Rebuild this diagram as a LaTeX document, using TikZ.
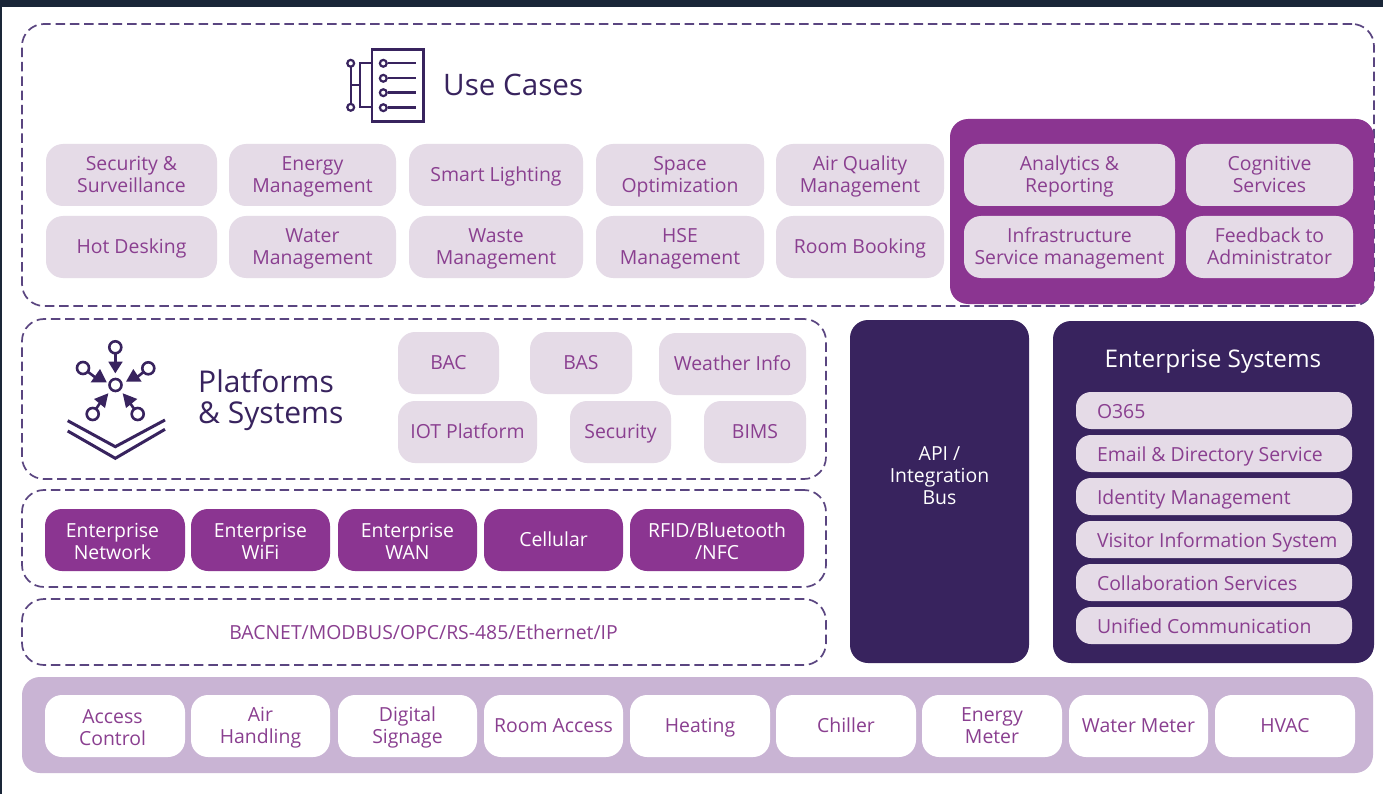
\documentclass[tikz,border=0pt]{standalone}
\usepackage{fontspec}
\usetikzlibrary{calc}
\setmainfont{Open Sans}
\definecolor{dk}{HTML}{38235E}
\definecolor{pu}{HTML}{8B3591}
\definecolor{pale}{HTML}{E5DBE7}
\definecolor{lil}{HTML}{C9B4D4}
\definecolor{txt}{HTML}{8A3F90}
\definecolor{bar}{HTML}{1A2638}
\definecolor{dash}{HTML}{5A4580}
\newcommand{\bx}[7]{\node[#6,minimum width={(#4-#2)*1pt},minimum height={(#5-#3)*1pt}] (#1) at ({(#2+#4)/2},{(#3+#5)/2}) {\rule{0pt}{19.4pt}#7\rule[-6.6pt]{0pt}{0pt}};}
\newcommand{\fr}[6]{\node[#6,minimum width={(#4-#2)*1pt},minimum height={(#5-#3)*1pt}] (#1) at ({(#2+#4)/2},{(#3+#5)/2}) {};}
\newcommand{\ls}{\rule{0pt}{24.4pt}}
\tikzset{
 x=1pt,y=-1pt,
 base/.style={draw=none,rectangle,rounded corners=17pt,inner sep=0pt,align=center,font=\fontsize{19.4}{22}\selectfont},
 palebox/.style={base,fill=pale,text=txt},
 purplebox/.style={base,fill=pu,text=white},
 whitebox/.style={base,fill=white,text=txt},
 listbox/.style={base,fill=pale,text=txt,rounded corners=15pt},
 frame/.style={rectangle,draw=dash,line width=1.7pt,dash pattern=on 9.5pt off 4.8pt,rounded corners=22pt,inner sep=0pt},
 panel/.style={rectangle,rounded corners=18pt,inner sep=0pt},
 ico/.style={draw=dk,line width=2.4pt},
 ring/.style={draw=dk,line width=2.2pt,fill=white},
 headtxt/.style={text=dk,inner sep=0pt,align=left,anchor=west},
 listtxt/.style={anchor=west,inner sep=0pt,text=txt,font=\fontsize{19.4}{22}\selectfont},
}
\begin{document}
\begin{tikzpicture}
\useasboundingbox (0,0) rectangle (1383,794);
\fill[white] (0,0) rectangle (1383,794);
\fill[bar] (0,0) rectangle (1383,7);
\fill[bar] (0,0) rectangle (2,794);
% frames
\fr{ucframe}{22}{24}{1374}{306}{frame}
\fr{psframe}{22}{319}{826}{479}{frame}
\fr{nwframe}{22}{490}{826}{587}{frame}
\fr{proto}{22}{599}{826}{665}{frame}
\node[anchor=base,inner sep=0pt,text=txt,font=\fontsize{19.4}{22}\selectfont] (protot) at (423.5,639.5) {BACNET/MODBUS/OPC/RS-485/Ethernet/IP};
% use cases
\bx{a1}{46}{144}{217}{206}{palebox}{Security \&\\Surveillance}
\bx{a2}{229}{144}{396}{206}{palebox}{Energy\\Management}
\bx{a3}{409}{144}{583}{206}{palebox}{Smart Lighting}
\bx{a4}{596}{144}{764}{206}{palebox}{Space\\Optimization}
\bx{a5}{776}{144}{944}{206}{palebox}{Air Quality\\Management}
\bx{b1}{46}{216}{217}{278}{palebox}{Hot Desking}
\bx{b2}{229}{216}{396}{278}{palebox}{Water\\Management}
\bx{b3}{409}{216}{583}{278}{palebox}{Waste\\Management}
\bx{b4}{596}{216}{764}{278}{palebox}{HSE\\Management}
\bx{b5}{776}{216}{944}{278}{palebox}{Room Booking}
\fr{pp}{950}{119}{1374}{304}{panel,fill=pu}
\bx{c1}{964}{144}{1175}{206}{palebox}{Analytics \&\\Reporting}
\bx{c2}{1186}{144}{1353}{206}{palebox}{Cognitive\\Services}
\bx{c3}{964}{216}{1175}{278}{palebox}{Infrastructure\\Service management}
\bx{c4}{1186}{216}{1353}{278}{palebox}{Feedback to\\Administrator}
% platforms
\bx{d1}{398}{332}{499}{394}{palebox}{BAC}
\bx{d2}{530}{332}{632}{394}{palebox}{BAS}
\bx{d3}{659}{333}{806}{395}{palebox}{Weather Info}
\bx{d4}{398}{401}{537}{463}{palebox}{IOT Platform}
\bx{d5}{570}{401}{671}{463}{palebox}{Security}
\bx{d6}{704}{401}{806}{463}{palebox}{BIMS}
% network
\bx{n1}{45}{509}{185}{571}{purplebox}{\ls Enterprise\kern5pt\\Network\kern5pt}
\bx{n2}{191}{509}{330}{571}{purplebox}{\ls Enterprise\\WiFi}
\bx{n3}{338}{509}{477}{571}{purplebox}{\ls Enterprise\\WAN}
\bx{n4}{484}{509}{623}{571}{purplebox}{Cellular}
\bx{n5}{630}{509}{804}{571}{purplebox}{\ls RFID/Bluetooth\\/NFC}
% api and enterprise
\fr{api}{850}{320}{1029}{663}{panel,fill=dk}
\node[text=white,inner sep=0pt,align=center,font=\fontsize{19.4}{22}\selectfont] (apit) at (939.5,478) {\strut API /\\Integration\\Bus\strut};
\fr{ent}{1053}{321}{1374}{663}{panel,fill=dk}
\node[text=white,inner sep=0pt,font=\fontsize{24.3}{28}\selectfont] (enttitle) at (1213,362) {Enterprise Systems};
\fr{e1}{1076}{392}{1352}{429}{listbox}
\fr{e2}{1076}{435}{1352}{472}{listbox}
\fr{e3}{1076}{478}{1352}{515}{listbox}
\fr{e4}{1076}{521}{1352}{558}{listbox}
\fr{e5}{1076}{564}{1352}{601}{listbox}
\fr{e6}{1076}{607}{1352}{644}{listbox}
\foreach \n/\t/\k in {e1/O365/a,e2/Email \& Directory Service/b,e3/Identity Management/c,e4/Visitor Information System/d,e5/Collaboration Services/e,e6/Unified Communication/f}{
 \path (\n.west) ++(21,4) node[listtxt] (lt\k) {\strut\t};
}
% bottom
\fr{bot}{22}{677}{1373}{773}{panel,fill=lil}
\bx{s1}{45}{695}{185}{757}{whitebox}{\ls Access\kern5pt\\Control\kern5pt}
\bx{s2}{191}{695}{330}{757}{whitebox}{Air\\Handling}
\bx{s3}{338}{695}{477}{757}{whitebox}{Digital\\Signage}
\bx{s4}{484}{695}{623}{757}{whitebox}{Room Access}
\bx{s5}{630}{695}{770}{757}{whitebox}{Heating}
\bx{s6}{776}{695}{916}{757}{whitebox}{Chiller}
\bx{s7}{922}{695}{1062}{757}{whitebox}{Energy\\Meter}
\bx{s8}{1069}{695}{1208}{757}{whitebox}{Water Meter}
\bx{s9}{1215}{695}{1355}{757}{whitebox}{HVAC}
% headings
\node[headtxt,font=\fontsize{29.6}{33}\selectfont] (uct) at (443,85) {Use Cases};
\node[headtxt,font=\fontsize{30}{31}\selectfont] (pst) at (198,400) {Platforms\\\& Systems};
% use cases icon
\draw[ico] (372,49.5) rectangle (423.3,121.5);
\foreach \yy in {63.3,78.3,92.7,107.7}{
 \draw[ico] (388,\yy) -- (416,\yy);
 \draw[ring] (383.3,\yy) circle (3.4pt);
}
\draw[ico] (350.7,63.3) -- (350.7,107.3);
\draw[ico] (350.7,85) -- (360,85);
\draw[ico] (372,63.3) -- (360,63.3) -- (360,107.3) -- (372,107.3);
\draw[ring] (350.7,63.3) circle (3.4pt);
\draw[ring] (350.7,107.3) circle (3.4pt);
% platforms icon
\draw[line width=3pt,draw=dk] (67.7,420.7) -- (115.3,446.7) -- (165,420);
\draw[line width=3pt,draw=dk] (67.7,431) -- (115.3,458.3) -- (165,429.3);
\draw[line width=2.6pt,draw=dk,fill=white] (115.5,385) circle (6pt);
\foreach \ax/\ay/\mx/\my/\tx/\ty/\px/\py/\qx/\qy in {
 115.3/347.3/115.3/362/115.3/373.3/108.3/361.7/122.7/361.7,
 83/368/96/378/106.7/382.3/90.7/382.3/100/369,
 148.3/368.3/136/378/126/381.7/133.3/369/141.7/381.7,
 92.7/414/100/403/108.3/393.3/94/399/105/408,
 137.7/414/130/403/122.7/393.3/126/408/137.3/399}{
 \draw[line width=2.6pt,draw=dk] (\ax,\ay) -- (\mx,\my);
 \fill[dk] (\tx,\ty) -- (\px,\py) -- (\qx,\qy) -- cycle;
 \draw[line width=2.6pt,draw=dk,fill=white] (\ax,\ay) circle (6pt);
}
\end{tikzpicture}
\end{document}
